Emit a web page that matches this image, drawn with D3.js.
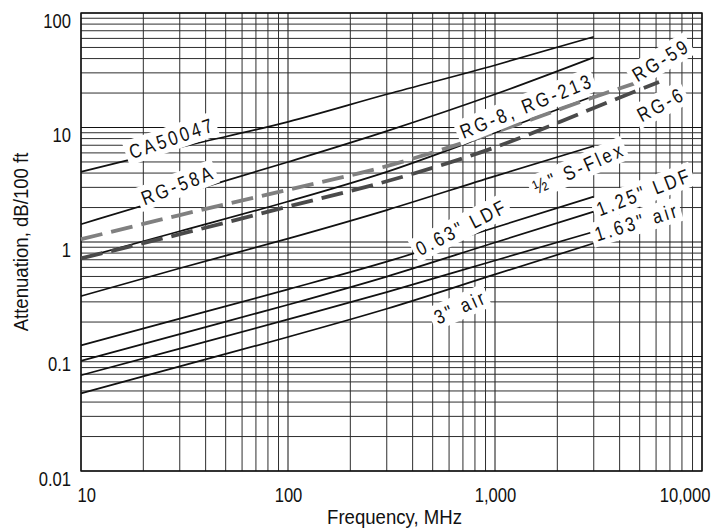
<!DOCTYPE html>
<html>
<head>
<meta charset="utf-8">
<script src="https://cdn.jsdelivr.net/npm/d3@7"></script>
<style>
  body { margin: 0; background: #fff; }
  text { font-family: "Liberation Sans", Arial, sans-serif; }
</style>
</head>
<body>
<div id="chart"></div>
<script>
// values (MHz -> dB/100 ft)
var freq = [10, 30, 100, 300, 1000, 3000];
var ca50047 = [4.1, 6.7, 11.2, 19.5, 35, 62];
var rg58a = [1.43, 2.6, 5.0, 9.3, 19.5, 41];
var rg8 = [0.72, 1.24, 2.26, 4.1, 9.0, 18.8];
var sFlex = [0.337, 0.59, 1.07, 1.9, 3.76, 6.9];
var ldf063 = [0.125, 0.214, 0.386, 0.674, 1.34, 2.49];
var ldf125 = [0.0915, 0.157, 0.283, 0.499, 0.99, 1.84];
var air163 = [0.0686, 0.117, 0.211, 0.365, 0.69, 1.23];
var air3 = [0.0477, 0.082, 0.148, 0.261, 0.521, 0.974];

var freqRg59 = [10, 30, 100, 300, 1000, 3000, 5000];
var rg59 = [1.056, 1.72, 2.86, 4.6, 9.1, 18.4, 25.1];
var freqRg6 = [10, 30, 100, 300, 1000, 3000, 6200];
var rg6 = [0.72, 1.17, 2.04, 3.39, 6.71, 14.8, 25];

var xTicks = [10, 100, 1000, 10000];
var yTicks = [0.01, 0.1, 1, 10, 100];

// label text + where it sits (in chart units) + tilt
var labelNames = ["CA50047", "RG-58A", "RG-8, RG-213", "RG-59", "RG-6", "\u00BD\" S-Flex", "0.63\" LDF", "1.25\" LDF", "1.63\" air", "3\" air"];
var labelFreq = [27.5, 29.4, 1420, 6340, 6340, 2540, 690, 5250, 4850, 680];
var labelVal = [8.1, 3.15, 15.5, 38.9, 16.0, 4.43, 1.35, 2.75, 1.50, 0.272];
var labelAngle = [-19, -21, -22, -31, -28, -24, -27, -21, -17, -24];

// chart area
var svgWidth = 713;
var svgHeight = 528;
var margin = { top: 13, right: 11, bottom: 57, left: 81 };
var width = svgWidth - margin.left - margin.right;
var height = svgHeight - margin.top - margin.bottom;

// the original type is a condensed face, squeeze horizontally
var squeeze = 0.83;

var svg = d3.select("#chart")
  .append("svg")
  .attr("width", svgWidth)
  .attr("height", svgHeight);

var chartGroup = svg.append("g")
  .attr("transform", "translate(" + margin.left + "," + margin.top + ")");

var x = d3.scaleLog().domain([10, 10000]).range([0, width]);
var y = d3.scaleLog().domain([0.01, 100]).range([height, 0]);

function isDecade(d) {
  var l = Math.log10(d);
  return Math.abs(l - Math.round(l)) < 1e-6;
}

// grid
var grid = chartGroup.append("g");
grid.selectAll(".vgrid")
  .data(x.ticks())
  .enter()
  .append("line")
  .attr("x1", function(d) { return x(d); })
  .attr("x2", function(d) { return x(d); })
  .attr("y1", 0)
  .attr("y2", height)
  .attr("stroke", function(d) { return isDecade(d) ? "#111" : "#2e2e2e"; })
  .attr("stroke-width", 1);

grid.selectAll(".hgrid")
  .data(y.ticks())
  .enter()
  .append("line")
  .attr("y1", function(d) { return y(d); })
  .attr("y2", function(d) { return y(d); })
  .attr("x1", 0)
  .attr("x2", width)
  .attr("stroke", function(d) { return isDecade(d) ? "#111" : "#2e2e2e"; })
  .attr("stroke-width", 1);

chartGroup.append("rect")
  .attr("width", width)
  .attr("height", height)
  .attr("fill", "none")
  .attr("stroke", "#111")
  .attr("stroke-width", 1.4);

// curves
var series = [
  { f: freq, v: ca50047, color: "#111", w: 1.7, dash: null },
  { f: freq, v: rg58a, color: "#111", w: 1.7, dash: null },
  { f: freq, v: rg8, color: "#111", w: 1.7, dash: null },
  { f: freq, v: sFlex, color: "#111", w: 1.7, dash: null },
  { f: freq, v: ldf063, color: "#111", w: 1.7, dash: null },
  { f: freq, v: ldf125, color: "#111", w: 1.7, dash: null },
  { f: freq, v: air163, color: "#111", w: 1.7, dash: null },
  { f: freq, v: air3, color: "#111", w: 1.7, dash: null },
  { f: freqRg59, v: rg59, color: "#808080", w: 3.8, dash: "22,9" },
  { f: freqRg6, v: rg6, color: "#4a4a4a", w: 3.8, dash: "22,9" }
];

var lineGen = d3.line()
  .x(function(d) { return x(d[0]); })
  .y(function(d) { return y(d[1]); })
  .curve(d3.curveMonotoneX);

chartGroup.selectAll(".curve")
  .data(series)
  .enter()
  .append("path")
  .attr("class", "curve")
  .attr("fill", "none")
  .attr("stroke", function(s) { return s.color; })
  .attr("stroke-width", function(s) { return s.w; })
  .attr("stroke-dasharray", function(s) { return s.dash; })
  .attr("d", function(s) { return lineGen(s.f.map(function(f, i) { return [f, s.v[i]]; })); });

// curve labels with white boxes behind them
labelNames.forEach(function(name, i) {
  var g = chartGroup.append("g")
    .attr("transform", "translate(" + x(labelFreq[i]) + "," + y(labelVal[i]) + ") rotate(" + labelAngle[i] + ") scale(" + squeeze + ",1)");
  var t = g.append("text")
    .attr("text-anchor", "middle")
    .attr("dy", "0.36em")
    .style("font-size", "20px")
    .style("letter-spacing", "3.5px")
    .attr("fill", "#111")
    .text(name);
  var bb = t.node().getBBox();
  g.insert("rect", "text")
    .attr("x", bb.x - 5)
    .attr("y", bb.y - 1)
    .attr("width", bb.width + 7)
    .attr("height", bb.height + 2)
    .attr("fill", "#fff");
});

// axes
var bottomAxis = d3.axisBottom(x)
  .tickValues(xTicks)
  .tickFormat(d3.format(","))
  .tickSize(0)
  .tickPadding(17);

var leftAxis = d3.axisLeft(y)
  .tickValues(yTicks)
  .tickFormat(function(d) { return String(d); })
  .tickSize(0)
  .tickPadding(10);

var xAxisG = chartGroup.append("g")
  .attr("transform", "translate(0," + height + ")")
  .call(bottomAxis);
xAxisG.select(".domain").remove();
xAxisG.selectAll("text")
  .style("font-size", "20px")
  .attr("fill", "#111")
  .attr("transform", "scale(" + squeeze + ",1)")
  .attr("text-anchor", function(d, i) { return i === 0 ? "start" : (i === xTicks.length - 1 ? "end" : "middle"); })
  .attr("x", function(d, i) { return i === 0 ? -4 / squeeze : (i === xTicks.length - 1 ? 8 / squeeze : 0); });

var yAxisG = chartGroup.append("g").call(leftAxis);
yAxisG.select(".domain").remove();
yAxisG.selectAll("text")
  .style("font-size", "20px")
  .attr("fill", "#111")
  .attr("transform", "scale(" + squeeze + ",1)")
  .attr("x", -10 / squeeze)
  .attr("dy", "0.7em");

// axis titles
svg.append("text")
  .attr("text-anchor", "middle")
  .style("font-size", "20px")
  .attr("fill", "#111")
  .attr("transform", "translate(28," + (margin.top + height / 2) + ") rotate(-90) scale(0.93,1)")
  .text("Attenuation, dB/100 ft");

svg.append("text")
  .attr("text-anchor", "middle")
  .style("font-size", "20px")
  .attr("fill", "#111")
  .attr("transform", "translate(" + (margin.left + width / 2 + 3) + ",524) scale(0.93,1)")
  .text("Frequency, MHz");
</script>
</body>
</html>
